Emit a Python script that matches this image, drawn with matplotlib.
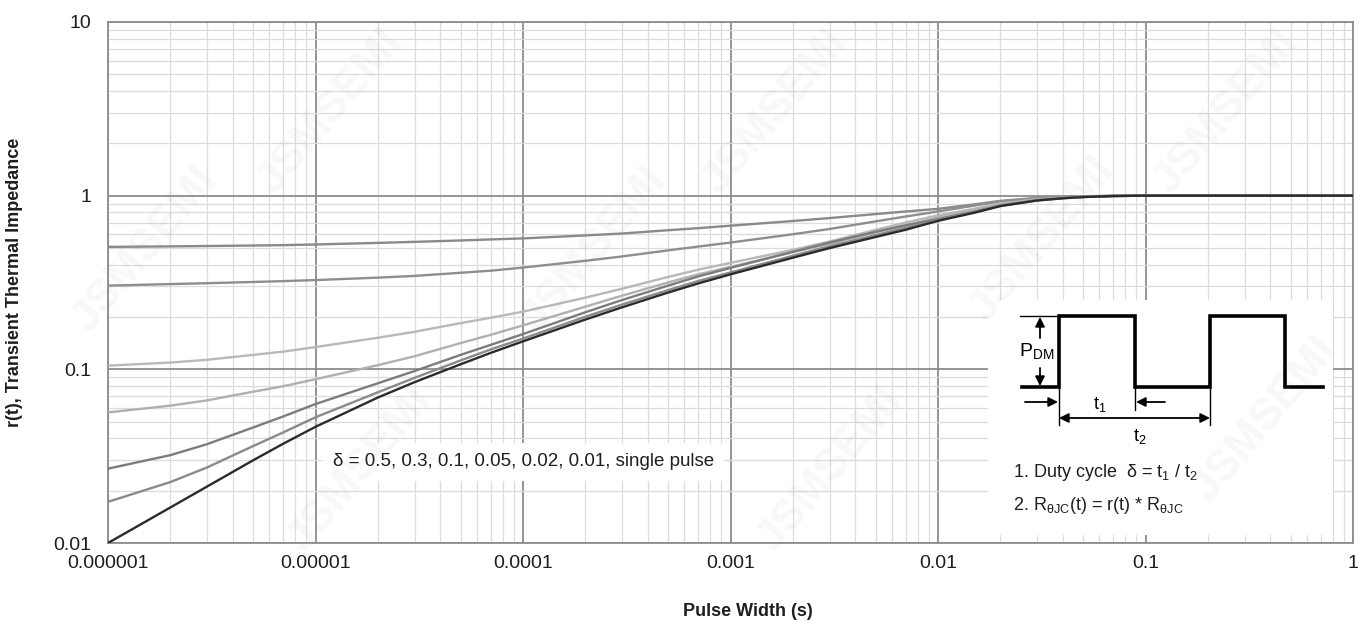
import matplotlib
matplotlib.use("Agg")
import matplotlib.pyplot as plt
from matplotlib.ticker import LogLocator, NullFormatter, FixedLocator, FixedFormatter

plt.rcParams['font.family'] = ['Liberation Sans', 'DejaVu Sans']

# ---- data -------------------------------------------------------------
pulse_width = [1e-6, 2e-6, 3e-6, 5e-6, 7e-6,
               1e-5, 2e-5, 3e-5, 5e-5, 7e-5,
               1e-4, 2e-4, 3e-4, 5e-4, 7e-4,
               1e-3, 2e-3, 3e-3, 5e-3, 7e-3,
               1e-2, 1.5e-2, 2e-2, 3e-2, 4e-2, 5e-2, 7e-2,
               1e-1, 1.0]

r_d050 = [0.5070, 0.5105, 0.5129, 0.5164, 0.5188,
          0.5236, 0.5346, 0.5420, 0.5521, 0.5598,
          0.5675, 0.5902, 0.6053, 0.6324, 0.6501,
          0.6714, 0.7145, 0.7430, 0.7834, 0.8110,
          0.8395, 0.8913, 0.9333, 0.9705, 0.9840, 0.9920, 0.9977,
          1.0, 1.0]
r_d030 = [0.3034, 0.3097, 0.3133, 0.3184, 0.3221,
          0.3266, 0.3373, 0.3451, 0.3597, 0.3698,
          0.3855, 0.4217, 0.4467, 0.4842, 0.5093,
          0.5370, 0.5998, 0.6427, 0.7112, 0.7586,
          0.8110, 0.8770, 0.9268, 0.9661, 0.9817, 0.9908, 0.9977,
          1.0, 1.0]
r_d010 = [0.1050, 0.1094, 0.1135, 0.1211, 0.1265,
          0.1343, 0.1521, 0.1644, 0.1845, 0.1982,
          0.2148, 0.2588, 0.2911, 0.3404, 0.3750,
          0.4102, 0.4875, 0.5445, 0.6353, 0.6998,
          0.7709, 0.8414, 0.9016, 0.9528, 0.9750, 0.9863, 0.9966,
          1.0, 1.0]
r_d005 = [0.05649, 0.06180, 0.06622, 0.07430, 0.07998,
          0.08770, 0.1057, 0.1189, 0.1416, 0.1581,
          0.1791, 0.2296, 0.2655, 0.3162, 0.3524,
          0.3890, 0.4721, 0.5284, 0.6152, 0.6730,
          0.7499, 0.8222, 0.8872, 0.9462, 0.9705, 0.9840, 0.9954,
          1.0, 1.0]
r_d002 = [0.02679, 0.03206, 0.03707, 0.04624, 0.05358,
          0.06310, 0.08318, 0.09772, 0.1211, 0.1384,
          0.1596, 0.2133, 0.2506, 0.3034, 0.3428,
          0.3837, 0.4753, 0.5370, 0.6194, 0.6761,
          0.7328, 0.8091, 0.8790, 0.9419, 0.9683, 0.9829, 0.9954,
          1.0, 1.0]
r_d001 = [0.01726, 0.02244, 0.02723, 0.03614, 0.04335,
          0.05297, 0.07379, 0.08933, 0.1125, 0.1303,
          0.1503, 0.2009, 0.2360, 0.2858, 0.3228,
          0.3614, 0.4508, 0.5117, 0.5929, 0.6531,
          0.7244, 0.8035, 0.8750, 0.9397, 0.9672, 0.9822, 0.9954,
          1.0, 1.0]
r_single = [0.0100, 0.01603, 0.02113, 0.02992, 0.03733,
            0.04667, 0.06887, 0.08433, 0.1069, 0.1245,
            0.1449, 0.1936, 0.2275, 0.2767, 0.3126,
            0.3524, 0.4395, 0.4989, 0.5781, 0.6368,
            0.7161, 0.7980, 0.8710, 0.9376, 0.9661, 0.9817, 0.9954,
            1.0, 1.0]

series = [r_d050, r_d030, r_d010, r_d005, r_d002, r_d001, r_single]
series_colors = ['#8a8a8a', '#8e8e8e', '#b8b8b8', '#b0b0b0', '#7c7c7c', '#8a8a8a', '#2b2b2b']

x_ticks = [1e-6, 1e-5, 1e-4, 1e-3, 1e-2, 1e-1, 1]
x_tick_labels = ['0.000001', '0.00001', '0.0001', '0.001', '0.01', '0.1', '1']
y_ticks = [0.01, 0.1, 1, 10]
y_tick_labels = ['0.01', '0.1', '1', '10']

# ---- figure -----------------------------------------------------------
W, H = 1367, 627
fig = plt.figure(figsize=(W / 100, H / 100), dpi=100)
fig.patch.set_facecolor('white')

ax = fig.add_axes([108 / W, 1 - 543 / H, (1353 - 108) / W, (543 - 22) / H])
ax.set_xscale('log')
ax.set_yscale('log')
ax.set_xlim(1e-6, 1)
ax.set_ylim(0.01, 10)

for vals, col in zip(series, series_colors):
    ax.plot(pulse_width, vals, color=col, lw=1.7, solid_capstyle='round',
            solid_joinstyle='round', zorder=3)

ax.xaxis.set_major_locator(FixedLocator(x_ticks))
ax.xaxis.set_major_formatter(FixedFormatter(x_tick_labels))
ax.yaxis.set_major_locator(FixedLocator(y_ticks))
ax.yaxis.set_major_formatter(FixedFormatter(y_tick_labels))
ax.xaxis.set_minor_locator(LogLocator(base=10, subs=range(2, 10), numticks=20))
ax.yaxis.set_minor_locator(LogLocator(base=10, subs=range(2, 10), numticks=20))
ax.xaxis.set_minor_formatter(NullFormatter())
ax.yaxis.set_minor_formatter(NullFormatter())

ax.grid(which='major', color='#8c8c8c', lw=1.3, zorder=1)
ax.grid(which='minor', color='#dcdcdc', lw=0.9, zorder=0)
ax.set_axisbelow(True)
ax.tick_params(which='both', length=0, labelsize=14, colors='#1e1e1e')
ax.tick_params(axis='x', pad=9)
ax.tick_params(axis='y', pad=12)
for sp in ax.spines.values():
    sp.set_color('#8c8c8c')
    sp.set_linewidth(1.3)

ax.set_ylabel('r(t), Transient Thermal Impedance', fontsize=13, fontweight='bold',
              color='#1e1e1e', labelpad=22)
fig.text(748 / W, 1 - 612 / H, 'Pulse Width (s)', fontsize=13, fontweight='bold',
         color='#1e1e1e', ha='center', va='center')

ax.text(333 / W, 1 - 462 / H, 'δ = 0.5, 0.3, 0.1, 0.05, 0.02, 0.01, single pulse',
        transform=fig.transFigure, fontsize=13.5, color='#1e1e1e', va='center', ha='left',
        zorder=5, bbox=dict(boxstyle='square,pad=0.55', fc='white', ec='none'))

# ---- duty-cycle schematic --------------------------------------------
bx0, bx1, by0, by1 = 988, 1333, 300, 535
ins = fig.add_axes([bx0 / W, 1 - by1 / H, (bx1 - bx0) / W, (by1 - by0) / H])
ins.set_xlim(bx0, bx1)
ins.set_ylim(by1, by0)
ins.set_xticks([])
ins.set_yticks([])
for sp in ins.spines.values():
    sp.set_visible(False)
ins.set_facecolor('white')
ins.set_zorder(4)

hi, lo = 316, 387
wave_x = [1022, 1059, 1059, 1135, 1135, 1210, 1210, 1285, 1285, 1323]
wave_y = [lo, lo, hi, hi, lo, lo, hi, hi, lo, lo]
ins.plot(wave_x, wave_y, color='black', lw=2.6, solid_joinstyle='miter')
ins.plot([1020, 1057], [hi, hi], color='black', lw=1.0)

arrow_kw = dict(arrowstyle='-|>', color='black', lw=1.3, mutation_scale=14,
                shrinkA=0, shrinkB=0)
ins.annotate('', xy=(1040, hi + 1), xytext=(1040, 338), arrowprops=arrow_kw)
ins.annotate('', xy=(1040, lo - 1), xytext=(1040, 368), arrowprops=arrow_kw)
ins.text(1019, 352, r'P$_{\mathregular{DM}}$', fontsize=14, va='center', ha='left')

# t1 / t2 markers
ins.plot([1059, 1059], [lo, 425], color='black', lw=1.0)
ins.plot([1135, 1135], [lo, 410], color='black', lw=1.0)
ins.plot([1210, 1210], [lo, 425], color='black', lw=1.0)
ins.annotate('', xy=(1058, 402), xytext=(1025, 402), arrowprops=arrow_kw)
ins.annotate('', xy=(1136, 402), xytext=(1165, 402), arrowprops=arrow_kw)
ins.text(1100, 405, r't$_{\mathregular{1}}$', fontsize=13, va='center', ha='center')
ins.annotate('', xy=(1059, 418), xytext=(1210, 418),
             arrowprops=dict(arrowstyle='<|-|>', color='black', lw=1.3,
                             mutation_scale=14, shrinkA=0, shrinkB=0))
ins.text(1140, 437, r't$_{\mathregular{2}}$', fontsize=13, va='center', ha='center')

ins.text(1013, 473, r'1. Duty cycle  δ = t$_{\mathregular{1}}$ / t$_{\mathregular{2}}$',
         fontsize=13, va='center', ha='left', color='#1e1e1e')
ins.text(1013, 505, r'2. R$_{\mathregular{θJC}}$(t) = r(t) * R$_{\mathregular{θJC}}$',
         fontsize=13, va='center', ha='left', color='#1e1e1e')

# ---- faint diagonal mark text ------------------------------------------
mark_pos = [(330, 112), (775, 112), (1226, 112), (145, 250), (594, 250), (1042, 240),
            (360, 470), (830, 470), (1265, 420)]
for px, py in mark_pos:
    fig.text(px / W, 1 - py / H, 'JSMSEMI', fontsize=32, fontweight='bold',
             color='#9a9a9a', alpha=0.07, rotation=50, ha='center', va='center',
             zorder=10)

fig.savefig('out.png', dpi=100, facecolor='white')
